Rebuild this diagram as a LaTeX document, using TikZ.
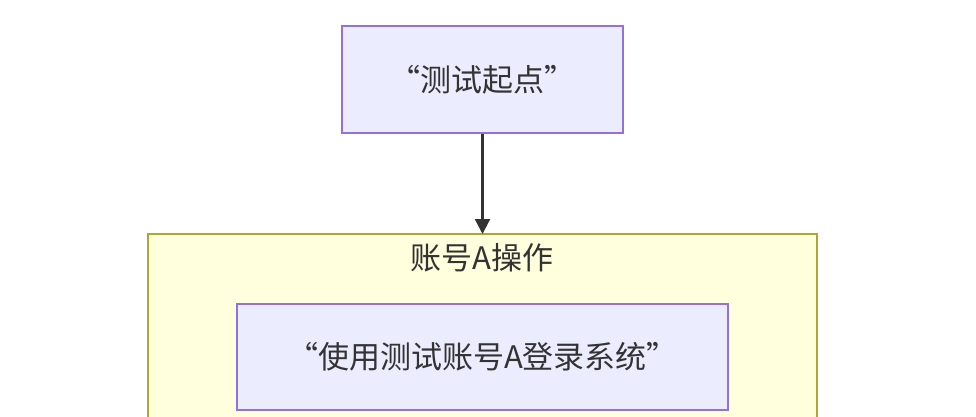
\documentclass[tikz,border=0pt]{standalone}
\usepackage{fontspec}
\setmainfont{Noto Sans CJK SC}
\usetikzlibrary{arrows.meta}
\definecolor{nfill}{HTML}{ECECFF}
\definecolor{nline}{HTML}{9370DB}
\definecolor{cfill}{HTML}{FFFFDE}
\definecolor{cline}{HTML}{AAAA33}
\definecolor{txt}{HTML}{333333}
\tikzset{
  nodebox/.style={draw=nline,fill=nfill,line width=2pt,inner sep=0pt,font=\fontsize{31}{36}\selectfont,text=txt},
  clusterbox/.style={draw=cline,fill=cfill,line width=2pt},
  link/.style={draw=txt,line width=2.2pt,-{Triangle[length=15pt,width=15pt]}}
}
\begin{document}
\begin{tikzpicture}[x=1pt,y=-1pt]
\useasboundingbox (0,0) rectangle (976,416);
\clip (0,0) rectangle (976,416);
\fill[white] (0,0) rectangle (976,416);
\draw[clusterbox] (148,234) rectangle (817,440);
\node[font=\fontsize{31}{36}\selectfont,text=txt] (cl) at (482,258) {账号A操作};
\node[nodebox,minimum width=281pt,minimum height=107pt] (start) at (482.5,79.5) {“测试起点”};
\node[nodebox,minimum width=491pt,minimum height=106pt] (login) at (482.5,357) {“使用测试账号A登录系统”};
\coordinate (ctop) at (482.5,234);
\draw[link] (start.south) -- (ctop);
\end{tikzpicture}
\end{document}
